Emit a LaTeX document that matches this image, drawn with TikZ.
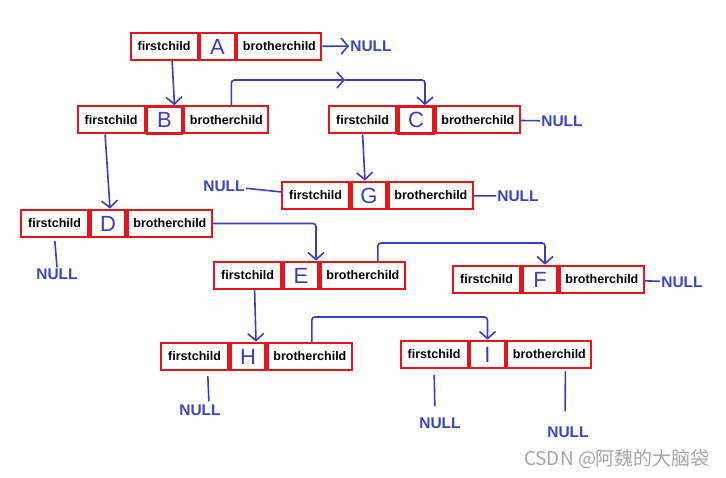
\documentclass[tikz,border=0pt]{standalone}
\usepackage{fontspec}
\setmainfont{Liberation Sans}
\newfontfamily\cjkfont{Noto Sans CJK SC}
\usetikzlibrary{arrows.meta,positioning}
\definecolor{boxred}{HTML}{E3161E}
\definecolor{pen}{HTML}{3A3EBE}
\definecolor{nullblue}{HTML}{3946C4}
\definecolor{wmgray}{HTML}{A6A6A6}
\tikzset{
  fieldbox/.style={
    draw=boxred,
    line width=2pt,
    minimum height=27pt,
    inner sep=0pt,
    font=\fontsize{12.5}{14}\selectfont\bfseries,
    text=black
  },
  childfield/.style={fieldbox, minimum width=67pt},
  brotherfield/.style={fieldbox, minimum width=84pt},
  datafield/.style={fieldbox, line width=2.8pt, minimum width=35pt, font=\fontsize{22}{22}\selectfont, text=pen},
  link/.style={-{Straight Barb[length=7pt,width=16pt]}, line width=1.6pt, draw=pen, rounded corners=3pt},
  nullline/.style={line width=1.6pt, draw=pen},
  nulllabel/.style={font=\fontsize{15.5}{17}\selectfont\bfseries, text=nullblue, inner sep=1pt}
}
\begin{document}
\begin{tikzpicture}[x=1pt,y=-1pt]
  \useasboundingbox (0,0) rectangle (726,478);
  % records
  \node[datafield] (A) at (217.5,46.5) {A};
  \node[childfield,left=0pt of A] (Afc) {firstchild};
  \node[brotherfield,right=0pt of A] (Abc) {brotherchild};
  \node[datafield] (B) at (164.5,120) {B};
  \node[childfield,left=0pt of B] (Bfc) {firstchild};
  \node[brotherfield,right=0pt of B] (Bbc) {brotherchild};
  \node[datafield] (C) at (416,120) {C};
  \node[childfield,left=0pt of C] (Cfc) {firstchild};
  \node[brotherfield,right=0pt of C] (Cbc) {brotherchild};
  \node[datafield] (G) at (369,195.5) {G};
  \node[childfield,left=0pt of G] (Gfc) {firstchild};
  \node[brotherfield,right=0pt of G] (Gbc) {brotherchild};
  \node[datafield] (D) at (108,223.5) {D};
  \node[childfield,left=0pt of D] (Dfc) {firstchild};
  \node[brotherfield,right=0pt of D] (Dbc) {brotherchild};
  \node[datafield] (E) at (301,275.5) {E};
  \node[childfield,left=0pt of E] (Efc) {firstchild};
  \node[brotherfield,right=0pt of E] (Ebc) {brotherchild};
  \node[datafield] (F) at (540,279.5) {F};
  \node[childfield,left=0pt of F] (Ffc) {firstchild};
  \node[brotherfield,right=0pt of F] (Fbc) {brotherchild};
  \node[datafield] (H) at (248,356.5) {H};
  \node[childfield,left=0pt of H] (Hfc) {firstchild};
  \node[brotherfield,right=0pt of H] (Hbc) {brotherchild};
  \node[datafield] (I) at (487.5,354.5) {I};
  \node[childfield,left=0pt of I] (Ifc) {firstchild};
  \node[brotherfield,right=0pt of I] (Ibc) {brotherchild};
  % NULL ends
  \node[nulllabel] (nullA) at (371,46) {NULL};
  \node[nulllabel] (nullC) at (562,121) {NULL};
  \node[nulllabel] (nullGl) at (224,186) {NULL};
  \node[nulllabel] (nullGr) at (518,196) {NULL};
  \node[nulllabel] (nullD) at (57,274) {NULL};
  \node[nulllabel] (nullF) at (682,282) {NULL};
  \node[nulllabel] (nullH) at (200,410) {NULL};
  \node[nulllabel] (nullIl) at (440,423) {NULL};
  \node[nulllabel] (nullIr) at (568,432) {NULL};
  \coordinate (BCmid) at (345,80);
  % pointers
  \draw[link] (Abc) -- (nullA);
  \draw[link] ([xshift=8pt]Afc.south) -- ([xshift=10pt]B.north);
  \draw[link] ([xshift=5pt]Bbc.north) |- (BCmid);
  \draw[link] (BCmid) -| ([xshift=9pt]C.north);
  \draw[link] ([xshift=-6pt]Bfc.south) -- ([xshift=2pt]D.north);
  \draw[link] (Cfc.south) -- ([xshift=-4pt]G.north);
  \draw[nullline] (Cbc) -- (nullC);
  \draw[nullline] (nullGl) -- (Gfc);
  \draw[nullline] (Gbc) -- (nullGr);
  \draw[nullline,shorten <=3pt] (Dfc.south) -- (nullD.north);
  \draw[link] (Dbc.east) -| ([xshift=15pt]E.north);
  \draw[link] ([xshift=15pt]Ebc.north) -- ++(0,-18) -| ([xshift=5pt]F.north);
  \draw[nullline] (Fbc) -- (nullF);
  \draw[link] ([xshift=7pt]Efc.south) -- ([xshift=8pt]H.north);
  \draw[link] ([xshift=2pt]Hbc.north) -- ++(0,-25) -| (I.north);
  \draw[nullline,shorten <=5pt,shorten >=2pt] ([xshift=13pt]Hfc.south) -- ([xshift=9pt]nullH.north);
  \draw[nullline,shorten <=6pt,shorten >=10pt] (Ifc.south) -- ([xshift=-5pt]nullIl.north);
  \draw[nullline,shorten <=2pt,shorten >=14pt] ([xshift=16pt]Ibc.south) -- ([xshift=-3pt]nullIr.north);
  % watermark
  \node[font=\cjkfont\fontsize{19}{21}\selectfont, text=wmgray] (csdn) at (617,459) {CSDN @阿魏的大脑袋};
\end{tikzpicture}
\end{document}
